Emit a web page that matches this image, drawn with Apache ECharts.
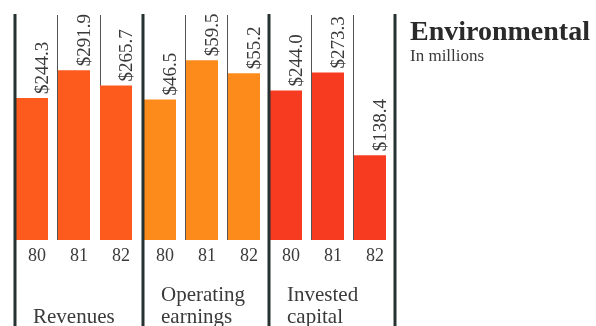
<!DOCTYPE html>
<html>
<head>
<meta charset="utf-8">
<script src="https://cdn.jsdelivr.net/npm/echarts@6/dist/echarts.min.js"></script>
<style>
  html, body { margin: 0; padding: 0; background: #fff; }
  #chart { width: 596px; height: 326px; }
</style>
</head>
<body>
<div id="chart"></div>
<script>
// Fiscal years shown under each group of bars
const years = ['80', '81', '82'];

// Segment figures, in millions of dollars
const revenues = [244.3, 291.9, 265.7];
const operatingEarnings = [46.5, 59.5, 55.2];
const investedCapital = [244.0, 273.3, 138.4];

const groupNames = ['Revenues', 'Operating\nearnings', 'Invested\ncapital'];
const groupColors = ['#fd5a1e', '#fd8b1b', '#f73b21'];
// each panel has its own vertical scale
const groupMax = [387, 74.5, 367];

const panelRules = [15, 143, 269, 395]; // heavy rules between the panels
const plotTop = 15, plotBottom = 240, H = 326;
const serif = '"Liberation Serif", "DejaVu Serif", serif';
const ink = '#3a3a3a';

const seriesData = [revenues, operatingEarnings, investedCapital];

const grids = [], xAxes = [], yAxes = [], series = [], titles = [], graphics = [];

for (let i = 0; i < 3; i++) {
  const x0 = panelRules[i], x1 = panelRules[i + 1];
  // grid holding the bars
  grids.push({ left: x0 - 4, width: 126, top: plotTop, bottom: H - plotBottom, containLabel: false });
  // grid holding the thin dividers between years
  grids.push({ left: x0, width: x1 - x0, top: plotTop, bottom: H - plotBottom, containLabel: false });

  const gBar = 2 * i, gRule = 2 * i + 1;
  xAxes.push({
    type: 'category', gridIndex: gBar, data: years,
    axisLine: { show: false }, axisTick: { show: false }, splitLine: { show: false },
    axisLabel: {
      fontFamily: serif, fontSize: 18, color: ink, margin: 7,
      padding: [0, 0, 0, 10]
    }
  });
  xAxes.push({
    type: 'category', gridIndex: gRule, data: years,
    axisLine: { show: false }, axisTick: { show: false }, axisLabel: { show: false },
    splitLine: { show: true, interval: 0, lineStyle: { color: '#555', width: 1 } }
  });
  yAxes.push({ type: 'value', gridIndex: gBar, min: 0, max: groupMax[i], show: false });
  yAxes.push({ type: 'value', gridIndex: gRule, min: 0, max: 1, show: false });

  series.push({
    type: 'bar', xAxisIndex: gBar, yAxisIndex: gBar,
    data: seriesData[i], barWidth: 32,
    itemStyle: { color: groupColors[i] },
    label: {
      show: true, position: [27, -4], rotate: 90,
      align: 'left', verticalAlign: 'middle',
      fontFamily: serif, fontSize: 19, color: ink,
      formatter: p => '$' + p.value.toFixed(1)
    }
  });

  titles.push({
    text: groupNames[i], left: x0 + 13, bottom: -7,
    textStyle: { fontFamily: serif, fontSize: 21, fontWeight: 'normal', color: ink, lineHeight: 22 }
  });
}

// heavy vertical rules
panelRules.forEach(x => {
  graphics.push({
    type: 'line', shape: { x1: x, y1: 14, x2: x, y2: H },
    style: { stroke: '#263232', lineWidth: 3 }, z: 10
  });
});

titles.push({
  text: 'Environmental', left: 405, top: 14,
  textStyle: { fontFamily: serif, fontSize: 28, fontWeight: 'bold', color: '#2a2a2a' }
});
titles.push({
  text: 'In millions', left: 405, top: 43,
  textStyle: { fontFamily: serif, fontSize: 17, fontWeight: 'normal', color: '#3a3a3a' }
});

const chart = echarts.init(document.getElementById('chart'), null, { renderer: 'canvas' });
chart.setOption({
  animation: false,
  backgroundColor: '#fff',
  title: titles,
  grid: grids,
  xAxis: xAxes,
  yAxis: yAxes,
  series: series,
  graphic: graphics
});
</script>
</body>
</html>
